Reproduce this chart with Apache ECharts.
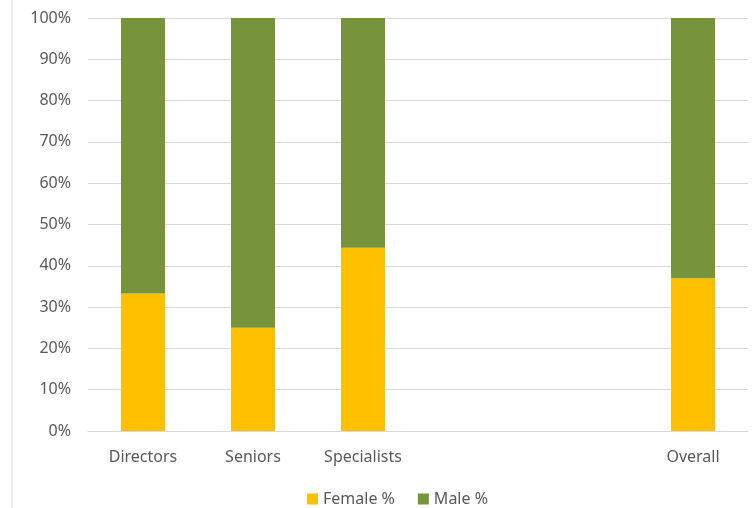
<!DOCTYPE html>
<html>
<head>
<meta charset="utf-8">
<script src="https://cdn.jsdelivr.net/npm/echarts@6/dist/echarts.min.js"></script>
<style>html,body{margin:0;padding:0;background:#fff;}#c{width:752px;height:508px;}</style>
</head>
<body>
<div id="c"></div>
<script>
const categories = ['Directors', 'Seniors', 'Specialists', '', '', 'Overall'];
const femalePct = [33.3, 25.0, 44.4, null, null, 37.0];
const malePct = [66.7, 75.0, 55.6, null, null, 63.0];
const yTicks = [0, 10, 20, 30, 40, 50, 60, 70, 80, 90, 100];

const chart = echarts.init(document.getElementById('c'), null, {renderer: 'canvas'});
const font = 'Noto Sans';
chart.setOption({
  animation: false,
  textStyle: {fontFamily: font},
  graphic: [{type: 'line', shape: {x1: 12, y1: 0, x2: 12, y2: 508}, style: {stroke: '#d9d9d9', lineWidth: 1}}],
  grid: {left: 88, right: 4, top: 18, bottom: 77, containLabel: false},
  legend: {
    top: 486, left: 302, itemWidth: 11, itemHeight: 11, itemGap: 23, icon: 'rect',
    textStyle: {fontSize: 16, color: '#595959', fontFamily: font},
    data: ['Female %', 'Male %']
  },
  xAxis: {
    type: 'category', data: categories,
    axisLine: {lineStyle: {color: '#d9d9d9'}}, axisTick: {show: false},
    axisLabel: {color: '#595959', fontSize: 16, margin: 18, fontFamily: font}
  },
  yAxis: {
    type: 'value', min: 0, max: 100, interval: 10,
    axisLabel: {color: '#595959', fontSize: 16, margin: 17, fontFamily: font,
      formatter: v => yTicks.includes(v) ? v + '%' : ''},
    splitLine: {lineStyle: {color: '#d9d9d9'}}, axisLine: {show: false}, axisTick: {show: false}
  },
  series: [
    {name: 'Female %', type: 'bar', stack: 's', data: femalePct, barWidth: '40%', itemStyle: {color: '#FFC000'}},
    {name: 'Male %', type: 'bar', stack: 's', data: malePct, barWidth: '40%', itemStyle: {color: '#77933C'}}
  ]
});
</script>
</body>
</html>
